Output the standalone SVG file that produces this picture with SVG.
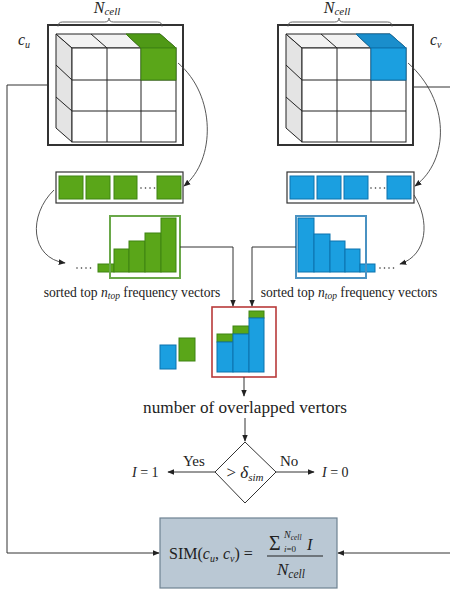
<svg xmlns="http://www.w3.org/2000/svg" width="450" height="590" viewBox="0 0 450 590">
<style>
text{font-family:"Liberation Serif","DejaVu Serif",serif;fill:#222}
.it{font-style:italic}
.frame{fill:none;stroke:#333;stroke-width:2}
.cl{stroke:#222;stroke-width:1;fill:none}
.conn{fill:none;stroke:#333;stroke-width:1}
.curve{fill:none;stroke:#444;stroke-width:0.9}
.brace{fill:none;stroke:#555;stroke-width:0.9}
.vbox{fill:#fff;stroke:#333;stroke-width:1.2}
.g{fill:#5aa619;stroke:#3f8412;stroke-width:1}
.gd{fill:#4f9916;stroke:#3f8412;stroke-width:1}
.b{fill:#1b9fe0;stroke:#0d73ad;stroke-width:1}
.bd{fill:#1a8ecc;stroke:#0d73ad;stroke-width:1}
.dots{stroke:#333;stroke-width:1.6;stroke-linecap:round;stroke-dasharray:0,4.5}
</style>
<defs>
<marker id="ah" viewBox="0 0 10 10" refX="9" refY="5" markerWidth="7" markerHeight="7" orient="auto" markerUnits="userSpaceOnUse">
<path d="M0,1 L10,5 L0,9 Z" fill="#222"/>
</marker>
<g id="cube">
<polygon points="56,34 72,48 72,142 56,128" fill="#e4e4e4" stroke="#222" stroke-width="1"/>
<polygon points="56,34 160,34 176,48 72,48" fill="#f2f2f2" stroke="#222" stroke-width="1"/>
<line class="cl" x1="56" y1="65" x2="72" y2="80"/>
<line class="cl" x1="56" y1="97" x2="72" y2="111"/>
<line class="cl" x1="91" y1="34" x2="107" y2="48"/>
<line class="cl" x1="126" y1="34" x2="141" y2="48"/>
<rect x="72" y="48" width="104" height="94" fill="#fff" stroke="#222" stroke-width="1"/>
<line class="cl" x1="107" y1="48" x2="107" y2="142"/>
<line class="cl" x1="141" y1="48" x2="141" y2="142"/>
<line class="cl" x1="72" y1="80" x2="176" y2="80"/>
<line class="cl" x1="72" y1="111" x2="176" y2="111"/>
<rect class="frame" x="48" y="25" width="135" height="120"/>
<path class="brace" d="M58,26.5 Q58,22 62.5,22 L104.5,22 Q109,22 109,18 Q109,22 113.5,22 L157.5,22 Q162,22 162,26.5"/>
</g>
</defs>

<g id="cube_u">
<use href="#cube"/>
<polygon class="gd" points="126,34 160,34 176,48 141,48"/>
<rect class="g" x="141" y="48" width="35" height="32"/>
<text class="it" x="107" y="13" font-size="16" text-anchor="middle">N<tspan font-size="11" dy="2">cell</tspan></text>
<text class="it" x="18" y="45" font-size="16">c<tspan font-size="10" dy="3">u</tspan></text>
</g>

<g id="cube_v">
<use href="#cube" transform="translate(230,0)"/>
<polygon class="bd" points="356,34 390,34 406,48 371,48"/>
<rect class="b" x="371" y="48" width="35" height="32"/>
<text class="it" x="337" y="13" font-size="16" text-anchor="middle">N<tspan font-size="11" dy="2">cell</tspan></text>
<text class="it" x="430" y="45" font-size="16">c<tspan font-size="10" dy="3">v</tspan></text>
</g>

<g id="vec_u">
<rect class="vbox" x="56" y="172" width="127" height="31"/>
<rect class="g" x="59" y="176" width="24" height="23"/>
<rect class="g" x="86" y="176" width="24" height="23"/>
<rect class="g" x="114" y="176" width="23" height="23"/>
<line class="dots" x1="141" y1="188" x2="156" y2="188"/>
<rect class="g" x="157" y="176" width="24" height="23"/>
</g>

<g id="vec_v">
<rect class="vbox" x="287" y="172" width="127" height="31"/>
<rect class="b" x="290" y="176" width="24" height="23"/>
<rect class="b" x="317" y="176" width="24" height="23"/>
<rect class="b" x="344" y="176" width="24" height="23"/>
<line class="dots" x1="371" y1="188" x2="386" y2="188"/>
<rect class="b" x="387" y="176" width="24" height="23"/>
</g>

<g id="hist_u">
<rect class="g" x="98" y="264" width="16" height="8"/>
<rect class="g" x="114" y="249" width="15" height="23"/>
<rect class="g" x="129" y="241" width="16" height="31"/>
<rect class="g" x="145" y="233" width="16" height="39"/>
<rect class="g" x="161" y="218" width="15" height="54"/>
<rect x="110" y="216" width="70" height="62" fill="none" stroke="#6aa84a" stroke-width="2"/>
<line class="dots" x1="77" y1="268" x2="95" y2="268"/>
<text x="132" y="297" font-size="13.6" text-anchor="middle">sorted top <tspan class="it">n</tspan><tspan class="it" font-size="9.5" dy="2">top</tspan><tspan dy="-2"> frequency vectors</tspan></text>
</g>

<g id="hist_v">
<rect class="b" x="298" y="218" width="16" height="54"/>
<rect class="b" x="314" y="234" width="16" height="38"/>
<rect class="b" x="330" y="241" width="15" height="31"/>
<rect class="b" x="345" y="249" width="15" height="23"/>
<rect class="b" x="360" y="264" width="15" height="8"/>
<rect x="296" y="216" width="70" height="62" fill="none" stroke="#4a92c2" stroke-width="2"/>
<line class="dots" x1="380" y1="268" x2="398" y2="268"/>
<text x="349" y="297" font-size="13.6" text-anchor="middle">sorted top <tspan class="it">n</tspan><tspan class="it" font-size="9.5" dy="2">top</tspan><tspan dy="-2"> frequency vectors</tspan></text>
</g>

<g id="overlap">
<rect class="b" x="160" y="345" width="16" height="24"/>
<rect class="g" x="179" y="338" width="16" height="23"/>
<rect x="212" y="307" width="64" height="70" fill="#fff" stroke="#b83a3a" stroke-width="1.6"/>
<rect class="g" x="217" y="334" width="16" height="8"/>
<rect class="b" x="217" y="342" width="16" height="30"/>
<rect class="g" x="233" y="326" width="16" height="8"/>
<rect class="b" x="233" y="334" width="16" height="38"/>
<rect class="g" x="249" y="311" width="15" height="7"/>
<rect class="b" x="249" y="318" width="15" height="54"/>
</g>

<g id="count">
<text x="245" y="413" font-size="17.2" text-anchor="middle">number of overlapped vertors</text>
</g>

<g id="decision">
<polygon points="245,442 276,472 245,503 215,472" fill="#fff" stroke="#333" stroke-width="1"/>
<text x="245" y="478" font-size="17" text-anchor="middle">&gt; <tspan class="it">δ</tspan><tspan class="it" font-size="11" dy="3">sim</tspan></text>
</g>

<g id="out_yes">
<text x="183" y="466" font-size="15">Yes</text>
<text x="132" y="477" font-size="14"><tspan class="it">I</tspan> = 1</text>
</g>
<g id="out_no">
<text x="280" y="466" font-size="15">No</text>
<text x="322" y="477" font-size="14"><tspan class="it">I</tspan> = 0</text>
</g>

<g id="sim">
<rect x="160" y="518" width="177" height="70" fill="#bac8d4" stroke="#6e8292" stroke-width="1.2"/>
<text x="169" y="559" font-size="16">SIM(<tspan class="it">c</tspan><tspan class="it" font-size="10" dy="3">u</tspan><tspan dy="-3">, </tspan><tspan class="it">c</tspan><tspan class="it" font-size="10" dy="3">v</tspan><tspan dy="-3">) =</tspan></text>
<text x="269" y="550" font-size="20">Σ</text>
<text class="it" x="284" y="538" font-size="10">N<tspan font-size="7.5" dy="1.5">cell</tspan></text>
<text x="284" y="552" font-size="9"><tspan class="it">i</tspan>=0</text>
<text class="it" x="307" y="550" font-size="16">I</text>
<line x1="267" y1="556" x2="323" y2="556" stroke="#222" stroke-width="1"/>
<text class="it" x="277" y="575" font-size="17">N<tspan font-size="11.5" dy="3">cell</tspan></text>
</g>

<g id="connectors">
<path class="curve" d="M178,63 C216,95 216,160 184,186" marker-end="url(#ah)"/>
<path class="curve" d="M408,63 C450,100 450,160 415,186" marker-end="url(#ah)"/>
<path class="curve" d="M54,190 C28,215 30,258 65,263" marker-end="url(#ah)"/>
<path class="curve" d="M414,195 C430,220 428,255 400,264" marker-end="url(#ah)"/>
<polyline class="conn" points="180,247 233,247 233,306" marker-end="url(#ah)"/>
<polyline class="conn" points="296,247 252,247 252,306" marker-end="url(#ah)"/>
<line class="conn" x1="244" y1="377" x2="244" y2="396" marker-end="url(#ah)"/>
<line class="conn" x1="245" y1="418" x2="245" y2="441" marker-end="url(#ah)"/>
<line class="conn" x1="215" y1="472" x2="168" y2="472" marker-end="url(#ah)"/>
<line class="conn" x1="276" y1="472" x2="314" y2="472" marker-end="url(#ah)"/>
<polyline class="conn" points="47,85 7,85 7,553 159,553" marker-end="url(#ah)"/>
<polyline class="conn" points="414,87 456,87 456,553 338,553" marker-end="url(#ah)"/>
</g>
</svg>
